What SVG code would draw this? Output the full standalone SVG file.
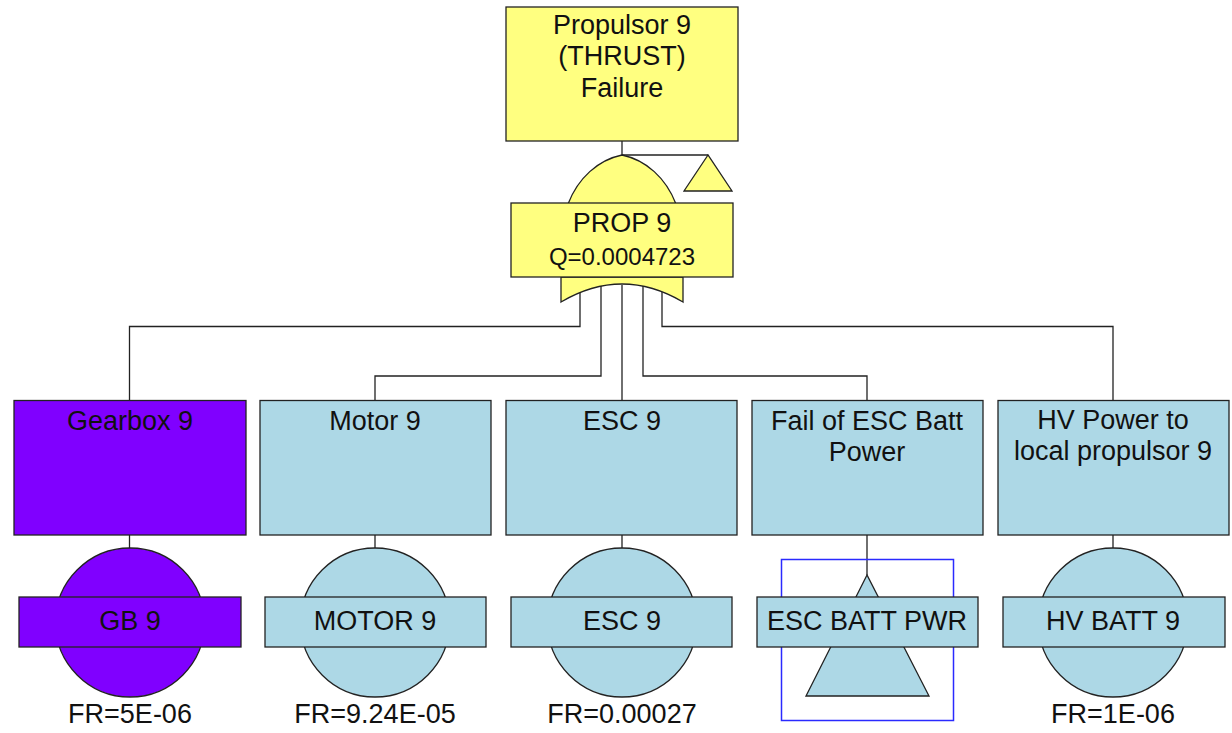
<svg xmlns="http://www.w3.org/2000/svg" width="1232" height="733" viewBox="0 0 1232 733">
<style>
text{font-family:"Liberation Sans",Arial,sans-serif;font-size:27px;fill:#111;text-anchor:middle}
.q{font-size:24px}
.y{fill:#FFFF80;stroke:#222;stroke-width:1.3}
.b{fill:#ADD8E6;stroke:#222;stroke-width:1.3}
.p{fill:#8000FF;stroke:#222;stroke-width:1.3}
.c{fill:none;stroke:#222;stroke-width:1.3}
.t{fill:none;stroke:#2a2aff;stroke-width:1.5}
</style>
<rect width="1232" height="733" fill="#fff"/>
<g id="connectors" class="c">
<path d="M622,141V155"/>
<path d="M622,155H708"/>
<path d="M580,285V326.5H129.5V400.5"/>
<path d="M601,285V376H375V400.5"/>
<path d="M622,285V400.5"/>
<path d="M643,285V376H867V400.5"/>
<path d="M662,285V326.5H1113V400.5"/>
<path d="M129.5,535V548"/>
<path d="M375,535V548"/>
<path d="M622,535V548"/>
<path d="M867,535V575"/>
<path d="M1113,535V548"/>
</g>
<g id="top">
<rect class="y" x="506" y="7" width="232" height="134"/>
<text x="622" y="34">Propulsor 9</text>
<text x="622" y="65">(THRUST)</text>
<text x="622" y="97">Failure</text>
</g>
<g id="gate">
<path class="y" d="M568,204C578,178 598,160 622,155C646,160 666,178 676,204Z"/>
<path class="y" d="M561,277V302Q622,266 683,302V277Z"/>
<polygon class="y" points="708,155 684,191 732,191"/>
<rect class="y" x="511" y="203" width="222" height="74"/>
<text x="622" y="232">PROP 9</text>
<text class="q" x="622" y="265">Q=0.0004723</text>
</g>
<g id="gearbox">
<rect class="p" x="14" y="400.5" width="232" height="134.5"/>
<text x="130" y="430">Gearbox 9</text>
<circle class="p" cx="130" cy="622.5" r="74.5"/>
<rect class="p" x="19" y="597" width="222" height="50"/>
<text x="130" y="630">GB 9</text>
<text x="130" y="723">FR=5E-06</text>
</g>
<g id="motor">
<rect class="b" x="260" y="400.5" width="231" height="134.5"/>
<text x="375" y="430">Motor 9</text>
<circle class="b" cx="375" cy="622.5" r="74.5"/>
<rect class="b" x="265" y="597" width="221" height="50"/>
<text x="375" y="630">MOTOR 9</text>
<text x="375" y="723">FR=9.24E-05</text>
</g>
<g id="esc">
<rect class="b" x="506" y="400.5" width="231" height="134.5"/>
<text x="622" y="430">ESC 9</text>
<circle class="b" cx="622" cy="622.5" r="74.5"/>
<rect class="b" x="511" y="597" width="221" height="50"/>
<text x="622" y="630">ESC 9</text>
<text x="622" y="723">FR=0.00027</text>
</g>
<g id="escbatt">
<rect class="b" x="752" y="400.5" width="231" height="134.5"/>
<text x="867" y="430">Fail of ESC Batt</text>
<text x="867" y="461">Power</text>
<rect class="t" x="781.5" y="559.5" width="172" height="161"/>
<polygon class="b" points="867,575 806,696 929,696"/>
<rect class="b" x="757" y="597" width="221" height="50"/>
<text x="867" y="630">ESC BATT PWR</text>
</g>
<g id="hv">
<rect class="b" x="998" y="400.5" width="231" height="134.5"/>
<text x="1113" y="429">HV Power to</text>
<text x="1113" y="460">local propulsor 9</text>
<circle class="b" cx="1113" cy="622.5" r="74.5"/>
<rect class="b" x="1003" y="597" width="222" height="50"/>
<text x="1113" y="630">HV BATT 9</text>
<text x="1113" y="723">FR=1E-06</text>
</g>
</svg>
